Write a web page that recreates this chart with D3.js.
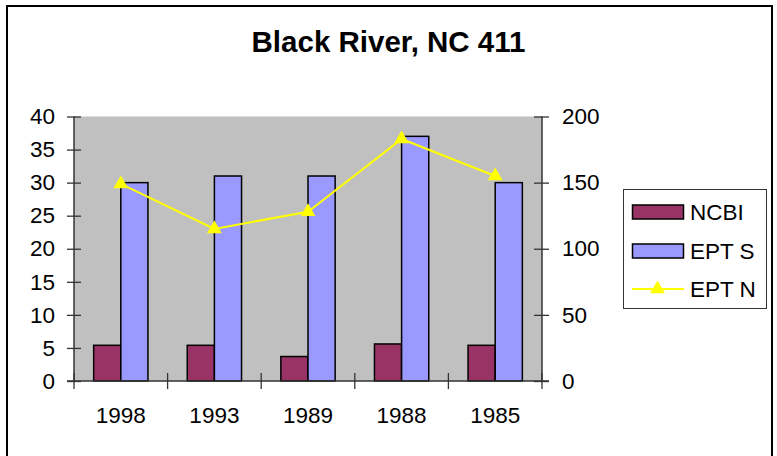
<!DOCTYPE html>
<html><head><meta charset="utf-8">
<script src="https://cdn.jsdelivr.net/npm/d3@7"></script>
<style>
html,body{margin:0;padding:0;background:#fff;}
svg{display:block;font-family:Arial,"Liberation Sans",sans-serif;}
</style></head>
<body>
<svg id="chart" width="777" height="456"></svg>
<script>
const title = "Black River, NC 411";
const categories = ["1998","1993","1989","1988","1985"];
const ncbi = [5.4,5.4,3.7,5.6,5.4];
const eptS = [30,31,31,37,30];
const eptN = [149,115,128,183,155];
const leftTicks = [0,5,10,15,20,25,30,35,40];
const rightTicks = [0,50,100,150,200];
const seriesNames = ["NCBI","EPT S","EPT N"];
const colors = {"NCBI":"#993366","EPT S":"#9999FF","EPT N":"#FFFF00"};

const svg = d3.select("#chart");
const plot = {left:74, right:542, top:116.5, bottom:381};

// outer border
svg.append("rect").attr("x",7).attr("y",6).attr("width",765).attr("height",460)
  .attr("fill","#fff").attr("stroke","#000").attr("stroke-width",2);

// title
svg.append("text").attr("x",388.5).attr("y",52).attr("text-anchor","middle")
  .attr("font-size",29.5).attr("font-weight","bold").text(title);

const x = d3.scaleBand().domain(categories).range([plot.left, plot.right]).padding(0);
const step = x.bandwidth();
const gap = step*0.42;
const xs = d3.scaleBand().domain(["NCBI","EPT S"]).range([gap/2, step-gap/2]).padding(0);
const yL = d3.scaleLinear().domain([0,40]).range([plot.bottom, plot.top]);
const yR = d3.scaleLinear().domain([0,200]).range([plot.bottom, plot.top]);

// plot area
svg.append("rect").attr("x",plot.left).attr("y",plot.top)
  .attr("width",plot.right-plot.left).attr("height",plot.bottom-plot.top)
  .attr("fill","#C0C0C0");

// bars
const barData = [];
categories.forEach((c,i)=>{
  barData.push({c, s:"NCBI", v:ncbi[i]});
  barData.push({c, s:"EPT S", v:eptS[i]});
});
svg.append("g").selectAll("rect").data(barData).join("rect")
  .attr("x",d=>x(d.c)+xs(d.s))
  .attr("y",d=>yL(d.v))
  .attr("width",xs.bandwidth())
  .attr("height",d=>yL(0)-yL(d.v))
  .attr("fill",d=>colors[d.s])
  .attr("stroke","#000").attr("stroke-width",1.5);

// axes
const axisColor = "#333";
const fs = 22.5;
const gl = svg.append("g").attr("transform",`translate(${plot.left},0)`)
  .call(d3.axisLeft(yL).tickValues(leftTicks).tickSize(7).tickPadding(12).tickFormat(d3.format("d")));
gl.selectAll(".tick line").attr("x2",-7).attr("x1",7);
const gr = svg.append("g").attr("transform",`translate(${plot.right},0)`)
  .call(d3.axisRight(yR).tickValues(rightTicks).tickSize(7).tickPadding(13).tickFormat(d3.format("d")));
gr.selectAll(".tick line").attr("x1",-8).attr("x2",7);
const gb = svg.append("g").attr("transform",`translate(0,${plot.bottom})`)
  .call(d3.axisBottom(x).tickSize(0));
gb.selectAll(".tick text").attr("y",42).attr("dy",0);
[gl,gr,gb].forEach(g=>{
  g.select(".domain").attr("stroke",axisColor).attr("stroke-width",1.5);
  g.selectAll(".tick line").attr("stroke",axisColor).attr("stroke-width",1.3);
  g.selectAll("text").attr("fill","#000").attr("font-size",fs).attr("font-family","Arial,'Liberation Sans',sans-serif");
});
gl.select(".domain").attr("d",`M0,${plot.top}V${plot.bottom}`);
gr.select(".domain").attr("d",`M0,${plot.top}V${plot.bottom}`);
gb.select(".domain").attr("d",`M${plot.left-7},0H${plot.right+7}`);
// category boundary ticks
const bounds = categories.map(c=>x(c)).concat([plot.right]);
gb.append("g").selectAll("line").data(bounds).join("line")
  .attr("x1",d=>d).attr("x2",d=>d).attr("y1",-8).attr("y2",8)
  .attr("stroke",axisColor).attr("stroke-width",1.3);

// line series (EPT N) on right axis
const lineData = categories.map((c,i)=>({c, v:eptN[i]}));
svg.append("path").datum(lineData)
  .attr("fill","none").attr("stroke",colors["EPT N"]).attr("stroke-width",2)
  .attr("d",d3.line().x(d=>x(d.c)+step/2).y(d=>yR(d.v)));
const tri = d3.symbol().type(d3.symbolTriangle).size(95);
svg.append("g").selectAll("path").data(lineData).join("path")
  .attr("transform",d=>`translate(${x(d.c)+step/2},${yR(d.v)})`)
  .attr("d",tri).attr("fill",colors["EPT N"]);

// legend
const lg = svg.append("g");
lg.append("rect").attr("x",623.5).attr("y",189.5).attr("width",143).attr("height",119)
  .attr("fill","#fff").attr("stroke","#333").attr("stroke-width",1);
const rowsY = [212, 251, 289];
seriesNames.forEach((s,i)=>{
  const cy = rowsY[i];
  if (s === "EPT N") {
    lg.append("line").attr("x1",632).attr("x2",684).attr("y1",cy).attr("y2",cy)
      .attr("stroke",colors[s]).attr("stroke-width",2);
    lg.append("path").attr("transform",`translate(657.5,${cy})`).attr("d",tri).attr("fill",colors[s]);
  } else {
    lg.append("rect").attr("x",632.5).attr("y",cy-7).attr("width",51).attr("height",14)
      .attr("fill",colors[s]).attr("stroke","#000").attr("stroke-width",1.5);
  }
  lg.append("text").attr("x",690).attr("y",cy+8).attr("font-size",fs).text(s);
});
</script>
</body></html>
